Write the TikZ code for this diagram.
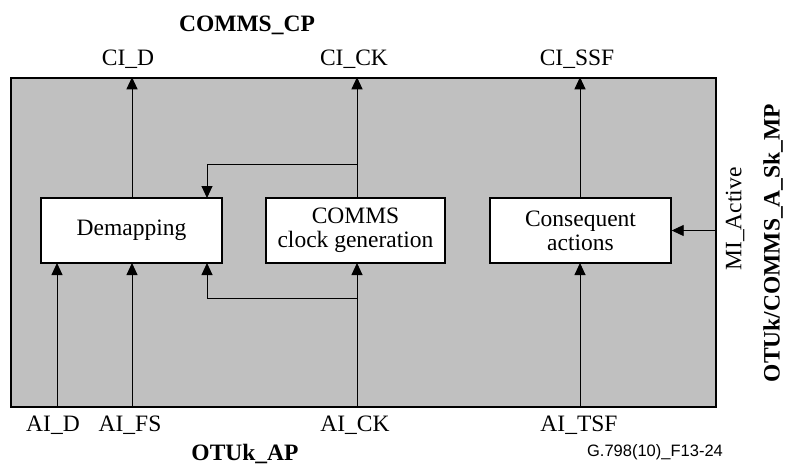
\documentclass[tikz,border=0pt]{standalone}
\usepackage{fontspec}
\setmainfont{Liberation Serif}
\newfontfamily\labsans{Liberation Sans}
\usetikzlibrary{arrows.meta}
\definecolor{fbgray}{RGB}{192,192,192}
\begin{document}
\begin{tikzpicture}[x=1pt,y=-1pt,
  txt/.style={font=\fontsize{23.5}{24}\selectfont, inner sep=0pt},
  btxt/.style={font=\fontsize{23.5}{24}\selectfont\bfseries, inner sep=0pt},
  box/.style={draw=black, line width=1.4pt, fill=white, align=center, inner sep=0pt,
    font=\fontsize{23.5}{24}\selectfont},
  sig/.style={line width=0.9pt, -{Triangle[length=12pt,width=11pt]}},
  lin/.style={line width=0.9pt}]
\useasboundingbox (0,0) rectangle (787,464);
% outer functional block
\node[draw=black, line width=1.5pt, fill=fbgray, minimum width=705pt, minimum height=329pt, inner sep=0pt] (fb) at (363.5,242.5) {};
% inner boxes
\node[box, minimum width=181pt, minimum height=65pt] (dem) at (131.5,230.5) {Demapping};
\node[box, minimum width=179pt, minimum height=65pt] (ck) at (355.5,230.5) {COMMS\\clock generation};
\node[box, minimum width=181pt, minimum height=65pt] (ca) at (580.5,230.5) {Consequent\\actions};
% coordinates
\coordinate (dtop) at (132,198);
\coordinate (dtopR) at (207,198);
\coordinate (ctop) at (357,198);
\coordinate (cbr) at (357,164);
\coordinate (atop) at (580,198);
\coordinate (dbotA) at (57,263);
\coordinate (dbotB) at (132,263);
\coordinate (dbotR) at (207,263);
\coordinate (cbot) at (357,263);
\coordinate (cbbr) at (357,298);
\coordinate (abot) at (580,263);
% outputs
\draw[sig] (dtop) -- (dtop |- fb.north);
\draw[sig] (ctop) -- (ctop |- fb.north);
\draw[sig] (atop) -- (atop |- fb.north);
\draw[sig] (cbr) -| (dtopR);
% inputs
\draw[sig] (dbotA |- fb.south) -- (dbotA);
\draw[sig] (dbotB |- fb.south) -- (dbotB);
\draw[sig] (cbot |- fb.south) -- (cbot);
\draw[sig] (abot |- fb.south) -- (abot);
\draw[sig] (cbbr) -| (dbotR);
\draw[sig] (fb.east |- ca.east) -- (ca.east);
% labels
\node[btxt, anchor=base] (cp) at (247,31.5) {COMMS\_CP};
\node[txt, anchor=base] (lcid) at (128,65) {CI\_D};
\node[txt, anchor=base] (lcick) at (354,65) {CI\_CK};
\node[txt, anchor=base] (lcissf) at (577,65) {CI\_SSF};
\node[txt, anchor=base] (laid) at (53,431.5) {AI\_D};
\node[txt, anchor=base] (laifs) at (130,431.5) {AI\_FS};
\node[txt, anchor=base] (laick) at (355,431.5) {AI\_CK};
\node[txt, anchor=base] (laitsf) at (579,431.5) {AI\_TSF};
\node[btxt, anchor=base] (ap) at (245,460) {OTUk\_AP};
\node[inner sep=0pt, anchor=base, font=\labsans\fontsize{16.5}{18}\selectfont] (fig) at (655,456.5) {G.798(10)\_F13-24};
\node[txt, rotate=90] (mi) at (735,219) {MI\_Active};
\node[btxt, rotate=90] (mp) at (773,243) {OTUk/COMMS\_A\_Sk\_MP};
\end{tikzpicture}
\end{document}
